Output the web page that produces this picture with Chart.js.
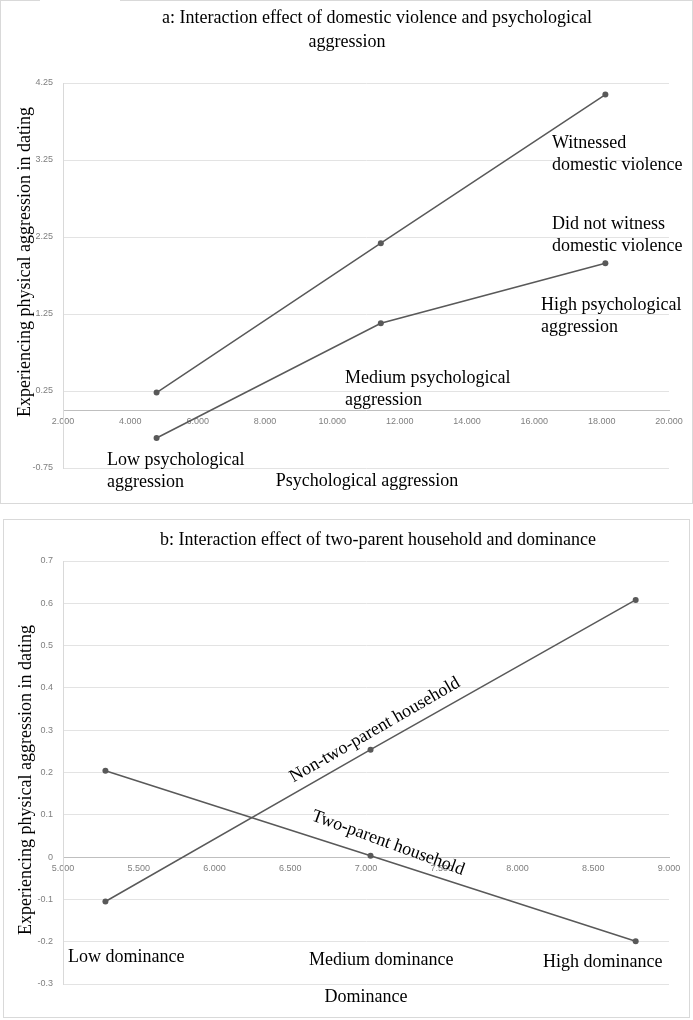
<!DOCTYPE html>
<html>
<head>
<meta charset="utf-8">
<script src="https://cdn.jsdelivr.net/npm/chart.js@4.4.1/dist/chart.umd.min.js"></script>
<style>
  body { margin: 0; background: #fff; width: 693px; height: 1020px; position: relative; overflow: hidden; }
  canvas { position: absolute; }
  .frame { position: absolute; border: 1px solid #d9d9d9; pointer-events: none; }
</style>
</head>
<body>
<canvas id="chartA" width="693" height="504" style="left:0;top:0;width:693px;height:504px"></canvas>
<div class="frame" style="left:0;top:0;width:691px;height:502px"></div>
<div style="position:absolute;left:40px;top:0;width:80px;height:2px;background:#fff"></div>
<canvas id="chartB" width="687" height="499" style="left:3px;top:519px;width:687px;height:499px"></canvas>
<div class="frame" style="left:3px;top:519px;width:685px;height:497px"></div>
<script>
// panel a: domestic violence x psychological aggression
const psychLevels = [4.78, 11.44, 18.11];
const witnessedDV = [0.23, 2.17, 4.10];
const notWitnessedDV = [-0.36, 1.13, 1.91];
const xTicksA = [2, 4, 6, 8, 10, 12, 14, 16, 18, 20];
const yTicksA = [-0.75, 0.25, 1.25, 2.25, 3.25, 4.25];

// panel b: two-parent household x dominance
const domLevels = [5.28, 7.03, 8.78];
const nonTwoParent = [-0.105, 0.254, 0.608];
const twoParent = [0.204, 0.003, -0.199];
const xTicksB = [5, 5.5, 6, 6.5, 7, 7.5, 8, 8.5, 9];
const yTicksB = [-0.3, -0.2, -0.1, 0, 0.1, 0.2, 0.3, 0.4, 0.5, 0.6, 0.7];

const LINE = '#595959';
const SERIF = '"Liberation Serif", "Times New Roman", serif';
const tickFont = { family: '"Liberation Sans", Arial, sans-serif', size: 9 };

// draws titles and free text boxes (Excel-style annotations)
const textPlugin = {
    id: 'textLabels',
    afterDraw(chart, args, opts) {
        const ctx = chart.ctx;
        (opts.items || []).forEach(item => {
            ctx.save();
            ctx.font = (item.size || 18) + 'px ' + SERIF;
            ctx.fillStyle = '#000';
            ctx.textAlign = item.align || 'left';
            ctx.textBaseline = 'middle';
            ctx.translate(item.x, item.y);
            if (item.rotate) ctx.rotate(item.rotate * Math.PI / 180);
            item.lines.forEach((line, i) => ctx.fillText(line, 0, i * 22));
            ctx.restore();
        });
    }
};

function toPoints(xs, ys) {
    return xs.map((x, i) => ({ x: x, y: ys[i] }));
}

function makeChart(id, cfg) {
    new Chart(document.getElementById(id), {
        type: 'line',
        data: {
            datasets: cfg.series.map(ys => ({
                data: toPoints(cfg.xs, ys),
                borderColor: LINE,
                borderWidth: 1.5,
                pointRadius: 3,
                pointBackgroundColor: LINE,
                pointBorderWidth: 0,
                tension: 0
            }))
        },
        options: {
            responsive: false,
            animation: false,
            layout: { padding: cfg.padding },
            plugins: {
                legend: { display: false },
                tooltip: { enabled: false },
                textLabels: { items: cfg.labels }
            },
            scales: {
                x: {
                    type: 'linear',
                    min: cfg.xTicks[0],
                    max: cfg.xTicks[cfg.xTicks.length - 1],
                    position: { y: 0 },
                    afterBuildTicks: s => { s.ticks = cfg.xTicks.map(v => ({ value: v })); },
                    grid: { display: false, drawTicks: false },
                    border: { display: true, color: '#bfbfbf', width: 1 },
                    ticks: { callback: v => v.toFixed(3), font: tickFont, color: '#7f7f7f', padding: 6, maxRotation: 0, autoSkip: false }
                },
                y: {
                    min: cfg.yTicks[0],
                    max: cfg.yTicks[cfg.yTicks.length - 1],
                    afterBuildTicks: s => { s.ticks = cfg.yTicks.map(v => ({ value: v })); },
                    afterFit: s => { s.width = cfg.axisWidth; },
                    grid: { color: '#e3e3e3', drawTicks: false },
                    border: { display: true, color: '#d9d9d9' },
                    ticks: { callback: v => String(v), font: tickFont, color: '#7f7f7f', padding: 10 }
                }
            }
        },
        plugins: [textPlugin]
    });
}

makeChart('chartA', {
    xs: psychLevels,
    series: [witnessedDV, notWitnessedDV],
    xTicks: xTicksA,
    yTicks: yTicksA,
    axisWidth: 63,
    padding: { left: 0, right: 24, top: 83, bottom: 36 },
    labels: [
        { lines: ['a: Interaction effect of domestic violence and psychological'], x: 377, y: 18, align: 'center' },
        { lines: ['aggression'], x: 347, y: 42, align: 'center' },
        { lines: ['Experiencing physical aggression in dating'], x: 25, y: 262, align: 'center', rotate: -90 },
        { lines: ['Witnessed', 'domestic violence'], x: 552, y: 143 },
        { lines: ['Did not witness', 'domestic violence'], x: 552, y: 224 },
        { lines: ['High psychological', 'aggression'], x: 541, y: 305 },
        { lines: ['Medium psychological', 'aggression'], x: 345, y: 378 },
        { lines: ['Low psychological', 'aggression'], x: 107, y: 460 },
        { lines: ['Psychological aggression'], x: 367, y: 481, align: 'center' }
    ]
});

// canvas b sits at (3, 519) on the page
makeChart('chartB', {
    xs: domLevels,
    series: [nonTwoParent, twoParent],
    xTicks: xTicksB,
    yTicks: yTicksB,
    axisWidth: 60,
    padding: { left: 0, right: 21, top: 42, bottom: 34 },
    labels: [
        { lines: ['b: Interaction effect of two-parent household and dominance'], x: 375, y: 21, align: 'center' },
        { lines: ['Experiencing physical aggression in dating'], x: 23, y: 261, align: 'center', rotate: -90 },
        { lines: ['Non-two-parent household'], x: 372, y: 211, align: 'center', rotate: -30 },
        { lines: ['Two-parent household'], x: 385, y: 324, align: 'center', rotate: 20 },
        { lines: ['Low dominance'], x: 65, y: 438 },
        { lines: ['Medium dominance'], x: 306, y: 441 },
        { lines: ['High dominance'], x: 540, y: 443 },
        { lines: ['Dominance'], x: 363, y: 478, align: 'center' }
    ]
});
</script>
</body>
</html>
